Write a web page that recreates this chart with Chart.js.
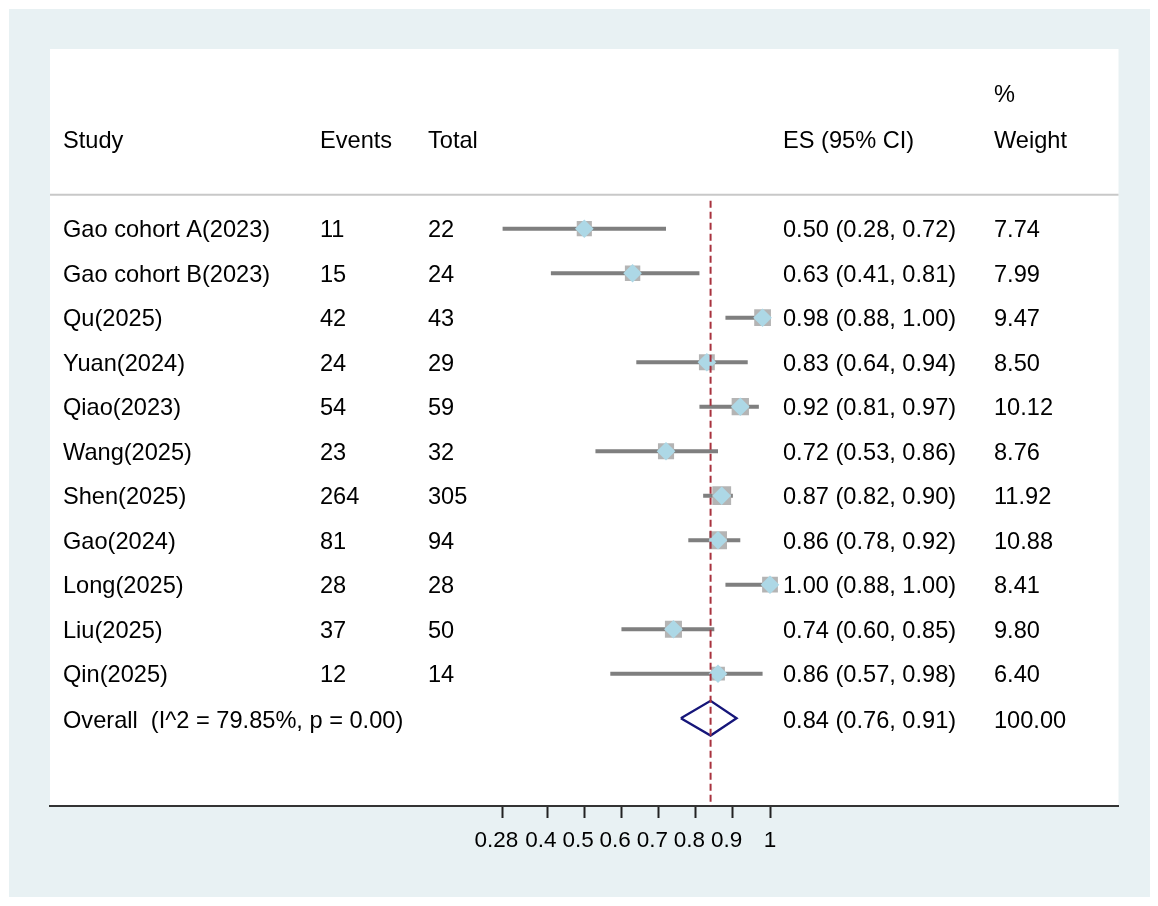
<!DOCTYPE html>
<html>
<head>
<meta charset="utf-8">
<script src="https://cdn.jsdelivr.net/npm/chart.js@4.4.1/dist/chart.umd.min.js"></script>
<style>
  html, body { margin: 0; padding: 0; background: #ffffff; }
  #c { display: block; }
</style>
</head>
<body>
<canvas id="c" width="1158" height="906"></canvas>
<script>
// ---------------- DATA ----------------
const studies = ["Gao cohort A(2023)", "Gao cohort B(2023)", "Qu(2025)", "Yuan(2024)", "Qiao(2023)",
                 "Wang(2025)", "Shen(2025)", "Gao(2024)", "Long(2025)", "Liu(2025)", "Qin(2025)"];
const events  = [11, 15, 42, 24, 54, 23, 264, 81, 28, 37, 12];
const totals  = [22, 24, 43, 29, 59, 32, 305, 94, 28, 50, 14];
const es      = [0.50, 0.63, 0.98, 0.83, 0.92, 0.72, 0.87, 0.86, 1.00, 0.74, 0.86];
const ciLow   = [0.28, 0.41, 0.88, 0.64, 0.81, 0.53, 0.82, 0.78, 0.88, 0.60, 0.57];
const ciHigh  = [0.72, 0.81, 1.00, 0.94, 0.97, 0.86, 0.90, 0.92, 1.00, 0.85, 0.98];
const weights = [7.74, 7.99, 9.47, 8.50, 10.12, 8.76, 11.92, 10.88, 8.41, 9.80, 6.40];
const overallES = 0.84, overallLow = 0.76, overallHigh = 0.91, overallWeight = 100.00;
const overallLabel = "Overall  (I^2 = 79.85%, p = 0.00)";
const headers = ["Study", "Events", "Total", "ES (95% CI)", "Weight"];
const tickValues = [0.28, 0.4, 0.5, 0.6, 0.7, 0.8, 0.9, 1];
const tickLabels = ["0.28", "0.4", "0.5", "0.6", "0.7", "0.8", "0.9", "1"];

// ---------------- LAYOUT / STYLE ----------------
const FONT = "'Liberation Sans', Arial, Helvetica, sans-serif";
const overallRow = studies.length;          // row index of the overall line
const colX = { study: 63, events: 320, total: 428, es: 783, weight: 994 };

const ciData = [];
studies.forEach((s, i) => {
  ciData.push({ x: ciLow[i], y: i }, { x: ciHigh[i], y: i }, { x: null, y: null });
});
const pts = es.map((v, i) => ({ x: v, y: i }));
const boxRadius = weights.map(w => 3.85 * Math.sqrt(w));
const dh = 0.39;
const overallDiamond = [
  { x: overallLow, y: overallRow }, { x: overallES, y: overallRow - dh },
  { x: overallHigh, y: overallRow }, { x: overallES, y: overallRow + dh },
  { x: overallLow, y: overallRow }
];
const refLine = [{ x: overallES, y: -0.63 }, { x: overallES, y: 12.973 }];

const fmt = v => v.toFixed(2);

const bgPlugin = {
  id: 'bg',
  beforeDraw(chart) {
    const { ctx, chartArea: a } = chart;
    ctx.save();
    ctx.fillStyle = '#ffffff';
    ctx.fillRect(0, 0, chart.width, chart.height);
    ctx.fillStyle = '#e8f1f3';
    ctx.fillRect(9, 9, 1141, 888);
    ctx.fillStyle = '#ffffff';
    ctx.fillRect(a.left, a.top, a.right - a.left, a.bottom - a.top);
    // header separator
    const ys = chart.scales.y.getPixelForValue(-0.765);
    ctx.strokeStyle = '#c8c8c8';
    ctx.lineWidth = 2;
    ctx.beginPath();
    ctx.moveTo(a.left, ys);
    ctx.lineTo(a.right, ys);
    ctx.stroke();
    ctx.restore();
  }
};

const textPlugin = {
  id: 'txt',
  afterDatasetsDraw(chart) {
    const { ctx } = chart;
    const y = chart.scales.y;
    const size = 23.6;
    const off = 0.358 * size;
    ctx.save();
    ctx.font = size + "px " + FONT;
    ctx.fillStyle = '#000000';
    ctx.textAlign = 'left';
    ctx.textBaseline = 'alphabetic';
    const put = (t, x, row) => ctx.fillText(t, x, y.getPixelForValue(row) + off);
    // header
    put("%", colX.weight, -3.03);
    put(headers[0], colX.study, -2);
    put(headers[1], colX.events, -2);
    put(headers[2], colX.total, -2);
    put(headers[3], colX.es, -2);
    put(headers[4], colX.weight, -2);
    studies.forEach((s, i) => {
      put(s, colX.study, i);
      put(String(events[i]), colX.events, i);
      put(String(totals[i]), colX.total, i);
      put(fmt(es[i]) + " (" + fmt(ciLow[i]) + ", " + fmt(ciHigh[i]) + ")", colX.es, i);
      put(fmt(weights[i]), colX.weight, i);
    });
    put(overallLabel, colX.study, overallRow + 0.02);
    put(fmt(overallES) + " (" + fmt(overallLow) + ", " + fmt(overallHigh) + ")", colX.es, overallRow + 0.02);
    put(fmt(overallWeight), colX.weight, overallRow + 0.02);
    ctx.restore();
  }
};

new Chart(document.getElementById('c'), {
  type: 'scatter',
  data: {
    datasets: [
      { label: 'ref', data: refLine, showLine: true, borderColor: '#a8323e', borderWidth: 2,
        borderDash: [7, 4], pointRadius: 0, order: 0 },
      { label: 'es', data: pts, pointStyle: 'rectRot', pointRadius: 9.3, pointHoverRadius: 9.3,
        backgroundColor: '#add8e6', borderWidth: 0, order: 1 },
      { label: 'overall', data: overallDiamond, showLine: true, borderColor: '#16167a', borderWidth: 2.3,
        pointRadius: 0, fill: false, tension: 0, order: 1 },
      { label: 'box', data: pts, pointStyle: 'rect', pointRadius: boxRadius, pointHoverRadius: boxRadius,
        backgroundColor: '#b4b4b4', borderWidth: 0, order: 2 },
      { label: 'ci', data: ciData, showLine: true, spanGaps: false, borderColor: '#7f7f7f', borderWidth: 4,
        pointRadius: 0, order: 3, borderCapStyle: 'butt' }
    ]
  },
  options: {
    responsive: false,
    animation: false,
    events: [],
    layout: { padding: { left: 50, top: 49, right: 39.5, bottom: 50 } },
    plugins: { legend: { display: false }, tooltip: { enabled: false } },
    scales: {
      x: {
        type: 'linear',
        min: -0.9386,
        max: 1.9383,
        afterBuildTicks: (scale) => { scale.ticks = tickValues.map(v => ({ value: v })); },
        afterFit: (scale) => { scale.height = 50; },
        ticks: {
          autoSkip: false,
          maxRotation: 0,
          padding: 9,
          color: '#000000',
          font: { family: FONT, size: 22.5 },
          callback: (v, i) => tickLabels[i] + (tickLabels[i] === "1" ? "" : "  ")
        },
        grid: { drawOnChartArea: false, drawTicks: true, tickLength: 12, tickColor: '#222222', tickWidth: 2 },
        border: { display: true, color: '#333333', width: 2 }
      },
      y: {
        type: 'linear',
        display: false,
        reverse: true,
        min: -4.038,
        max: 12.973
      }
    }
  },
  plugins: [bgPlugin, textPlugin]
});
</script>
</body>
</html>
